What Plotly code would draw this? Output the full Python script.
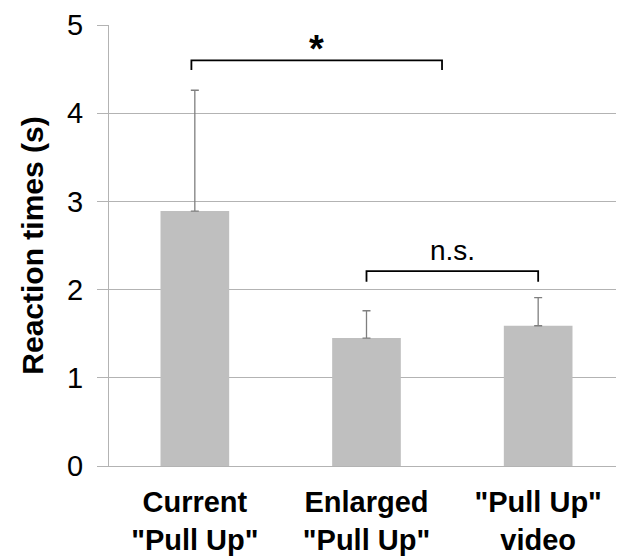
import plotly.graph_objects as go

categories = ['<b>Current<br>"Pull Up"</b>', '<b>Enlarged<br>"Pull Up"</b>', '<b>"Pull Up"<br>video</b>']
means = [2.89, 1.45, 1.59]
errors = [1.37, 0.31, 0.32]
y_ticks = [0, 1, 2, 3, 4, 5]

# significance brackets: (x_start, x_end, y_top, y_end, label, label_x, label_y, size, bold)
brackets = [
    (-0.02, 1.44, 4.6, 4.49, "*", 0.71, 4.47, 38, True),
    (1.0, 2.0, 2.21, 2.09, "n.s.", 1.5, 2.25, 28, False),
]

FONT = "Liberation Sans, Arial, sans-serif"
GRID = "#b3b3b3"

fig = go.Figure()
fig.add_trace(go.Bar(
    x=[0, 1, 2], y=means, width=0.4,
    marker=dict(color="#bfbfbf", line=dict(width=0)),
    error_y=dict(type="data", array=errors, arrayminus=[0, 0, 0], symmetric=False,
                 color="#7f7f7f", thickness=1.3, width=4),
    showlegend=False,
))

for x0, x1, yt, ye, lab, lx, ly, sz, bold in brackets:
    fig.add_trace(go.Scatter(
        x=[x0, x0, x1, x1], y=[ye, yt, yt, ye], mode="lines",
        line=dict(color="black", width=1.8), showlegend=False, hoverinfo="skip",
    ))
    fig.add_annotation(x=lx, y=ly, text=f"<b>{lab}</b>" if bold else lab, showarrow=False,
                       yanchor="bottom", font=dict(family=FONT, size=sz, color="black"))

# page body has an 8px margin, so the figure is sized to end at 624x556
fig.update_layout(
    width=616, height=548,
    margin=dict(l=101, r=0, t=17, b=90),
    plot_bgcolor="white", paper_bgcolor="white",
    font=dict(family=FONT, color="black"),
)
fig.update_xaxes(
    range=[-0.5, 2.5], tickmode="array", tickvals=[0, 1, 2], ticktext=categories,
    tickfont=dict(family=FONT, size=29, color="black"), automargin=False,
    showline=True, linecolor=GRID, linewidth=1.3, ticks="", showgrid=False,
    zeroline=False, fixedrange=True, ticklabelstandoff=10,
)
fig.update_yaxes(
    range=[0, 5], tickvals=y_ticks, ticktext=[str(v) for v in y_ticks],
    tickfont=dict(family=FONT, size=29, color="black"), automargin=False,
    showline=True, linecolor=GRID, linewidth=1.3, ticks="outside", ticklen=11,
    tickcolor=GRID, tickwidth=1.3, showgrid=True, gridcolor=GRID, gridwidth=1.3,
    zeroline=False, ticklabelstandoff=8,
    title=dict(text="<b>Reaction times (s)</b>", font=dict(family=FONT, size=30, color="black"),
               standoff=14),
)

fig.write_html("out.html")
